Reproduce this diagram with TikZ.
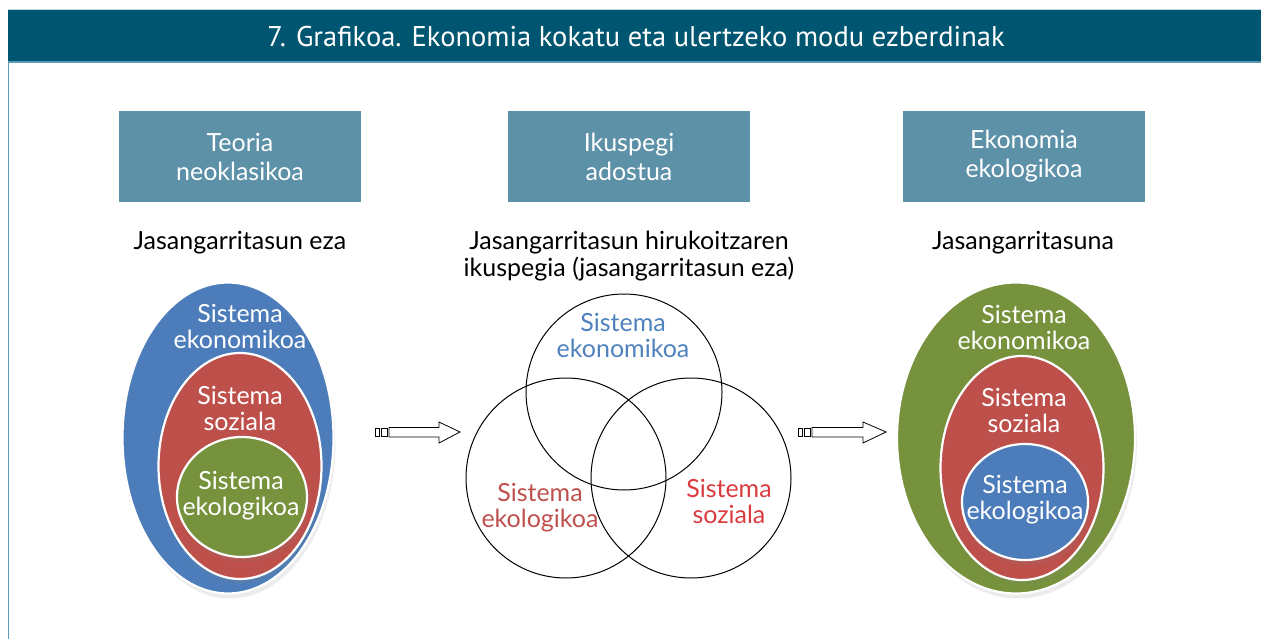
\documentclass[tikz,border=0pt]{standalone}
\usepackage{fontspec}
\setmainfont{Lato}
\newfontfamily\titlefont{PT Sans}
\usetikzlibrary{shapes.geometric,shadows}
\definecolor{hdr}{HTML}{005670}
\definecolor{hdrline}{HTML}{5B9AB5}
\definecolor{boxc}{HTML}{5D91A8}
\definecolor{blu}{HTML}{4C7DBA}
\definecolor{rd}{HTML}{BE504B}
\definecolor{grn}{HTML}{76923C}
\definecolor{vblue}{HTML}{4F81BD}
\definecolor{vred}{HTML}{C0504D}
\definecolor{vred2}{HTML}{D93B3F}
\tikzset{
  headbox/.style={fill=boxc, minimum width=242pt, minimum height=91pt, inner sep=0pt},
  headtxt/.style={text=white, align=center, font=\fontsize{25}{29}\selectfont},
  subtxt/.style={text=black, align=center, font=\fontsize{25}{27}\selectfont},
  blob/.style={ellipse, draw=white, line width=2.2pt, inner sep=0pt,
     drop shadow={opacity=0.15, shadow xshift=2pt, shadow yshift=-5pt}},
  lbl/.style={align=center, font=\fontsize{25}{26}\selectfont, inner sep=0pt},
  venn/.style={circle, draw=black, line width=1pt, inner sep=0pt},
  arr/.style={draw=black, line width=0.8pt, fill=white},
}
\begin{document}
\begin{tikzpicture}[x=1pt,y=-1pt]
\useasboundingbox (0,0) rectangle (1261,639);
% header
\fill[hdr] (8,10) rectangle (1261,62);
\draw[hdrline!40, line width=1pt] (8,9.5) -- (1261,9.5);
\draw[hdrline, line width=1.2pt] (8,62) -- (1261,62);
\draw[hdrline, line width=1pt] (8.5,62) -- (8.5,639);
\node[text=white, font=\titlefont\fontsize{28.5}{30}\selectfont] (title) at (636,37) {7. Grafikoa. Ekonomia kokatu eta ulertzeko modu ezberdinak};
% head boxes
\node[headbox] (b1) at (240,156.5) {};
\node[headbox] (b2) at (629,156.5) {};
\node[headbox] (b3) at (1024,156.5) {};
\node[headtxt] (b1t) at (b1) {Teoria\\neoklasikoa};
\node[headtxt] (b2t) at (b2) {Ikuspegi\\adostua};
\node[headtxt] (b3t) at (b3) {Ekonomia\\ekologikoa};
% subtitles
\node[subtxt] (s1) at (240,243) {Jasangarritasun eza};
\node[subtxt] (s2) at (629,256.5) {Jasangarritasun hirukoitzaren\\ikuspegia (jasangarritasun eza)};
\node[subtxt] (s3) at (1023,243) {Jasangarritasuna};
% left nested
\node[blob, fill=blu, minimum width=211pt, minimum height=311pt] (L1) at (228,438) {};
\node[blob, fill=rd, minimum width=163pt, minimum height=226pt] (L2) at (240,466) {};
\node[blob, fill=grn, minimum width=130pt, minimum height=120pt] (L3) at (242,497) {};
\node[lbl, text=white] (L1t) at (240,326) {Sistema\\ekonomikoa};
\node[lbl, text=white] (L2t) at (240,408.5) {Sistema\\soziala};
\node[lbl, text=white] (L3t) at (241,496) {Sistema\\ekologikoa};
% right nested
\node[blob, fill=grn, minimum width=238pt, minimum height=311pt] (R1) at (1016,438) {};
\node[blob, fill=rd, minimum width=163pt, minimum height=224pt] (R2) at (1022,468) {};
\node[blob, fill=blu, minimum width=126pt, minimum height=116pt] (R3) at (1025,502) {};
\node[lbl, text=white] (R1t) at (1024,327.5) {Sistema\\ekonomikoa};
\node[lbl, text=white] (R2t) at (1024,410.5) {Sistema\\soziala};
\node[lbl, text=white] (R3t) at (1025,499.5) {Sistema\\ekologikoa};
% venn
\node[venn, minimum size=196pt] (V1) at (624,392) {};
\node[venn, minimum size=200pt] (V2) at (566,478) {};
\node[venn, minimum size=200pt] (V3) at (691,478) {};
\node[lbl, text=vblue] (V1t) at (623,335) {Sistema\\ekonomikoa};
\node[lbl, text=vred] (V2t) at (540,507.5) {Sistema\\ekologikoa};
\node[lbl, text=vred2] (V3t) at (729,501) {Sistema\\soziala};
% arrows
\draw[arr] (375,428) rectangle (379.5,436);
\draw[arr] (381.5,428) rectangle (387,436);
\draw[arr] (389,427.5) -- (439,427.5) -- (439,422) -- (460,432) -- (439,443) -- (439,437) -- (389,437) -- cycle;
\draw[arr] (798,428) rectangle (802.5,436);
\draw[arr] (804.5,428) rectangle (810,436);
\draw[arr] (812,427.5) -- (863,427.5) -- (863,422) -- (886,432) -- (863,443) -- (863,437) -- (812,437) -- cycle;
\end{tikzpicture}
\end{document}
